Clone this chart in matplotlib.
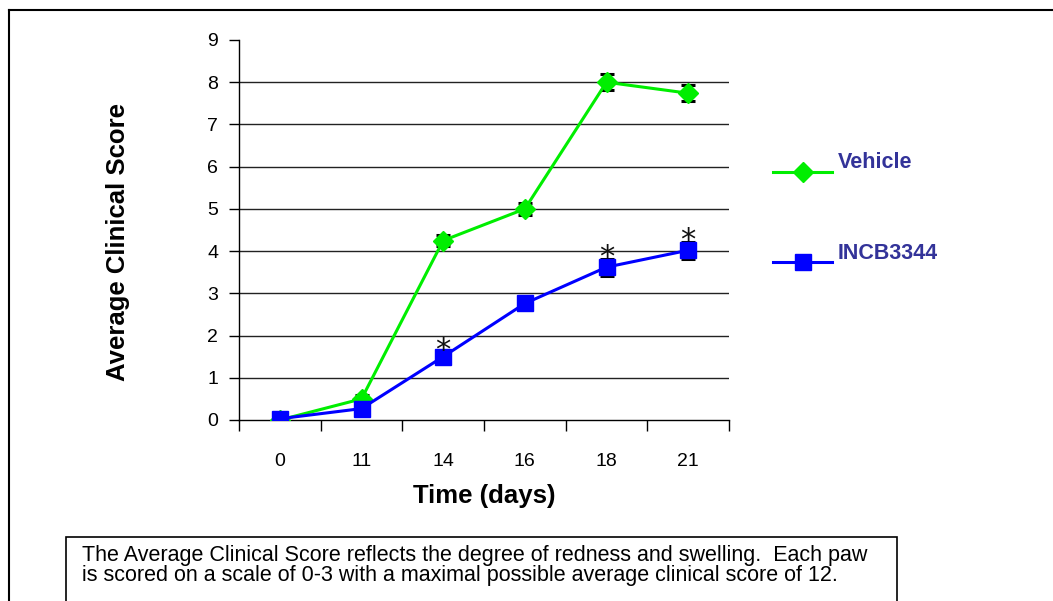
import matplotlib
matplotlib.use("Agg")
import matplotlib.pyplot as plt
from matplotlib.lines import Line2D
from matplotlib.patches import Rectangle

plt.rcParams["font.family"] = ["Liberation Sans", "DejaVu Sans"]

days = ["0", "11", "14", "16", "18", "21"]
vehicle = [0.0, 0.5, 4.25, 5.0, 8.0, 7.74]
vehicle_err = [0.0, 0.1, 0.14, 0.14, 0.19, 0.19]
incb = [0.03, 0.27, 1.5, 2.76, 3.62, 4.02]
incb_err = [0.0, 0.1, 0.12, 0.12, 0.2, 0.2]
signif = [False, False, True, False, True, True]

W, H = 1053, 601
fig = plt.figure(figsize=(W / 100, H / 100), dpi=100)
ax = fig.add_axes([239 / W, 1 - 420 / H, (729 - 239) / W, (420 - 40) / H])

x = list(range(len(days)))
ax.errorbar(x, vehicle, yerr=vehicle_err, color="#00ee00", lw=2.2, marker="D",
            ms=10, mec="#00ee00", ecolor="black", elinewidth=1.6, capsize=5,
            capthick=2.2, zorder=3)
ax.errorbar(x, incb, yerr=incb_err, color="#0000ff", lw=2.2, marker="s",
            ms=11, mec="#0000ff", ecolor="black", elinewidth=1.6, capsize=5,
            capthick=2.2, zorder=4)
# significance marks
for i, s in enumerate(signif):
    if s:
        ax.text(x[i], incb[i] + incb_err[i] + 0.02, "*", ha="center", va="center",
                fontsize=22, color="#111111", zorder=5, family=["DejaVu Sans"])

ax.set_xlim(-0.5, len(days) - 0.5)
ax.set_ylim(0, 9)
ax.set_yticks(range(10))
ax.set_xticks(x)
ax.set_xticklabels(days)
ax.set_xticks([i - 0.5 for i in range(len(days) + 1)], minor=True)
ax.tick_params(axis="x", which="major", length=0, pad=24, labelsize=14)
ax.tick_params(axis="x", which="minor", length=8, width=1, direction="out")
ax.tick_params(axis="y", length=7, width=1, direction="out", pad=8, labelsize=14)
for y in range(1, 9):
    ax.axhline(y, color="#222222", lw=1, zorder=1)
for s in ["top", "right"]:
    ax.spines[s].set_visible(False)
for s in ["left", "bottom"]:
    ax.spines[s].set_color("black")
    ax.spines[s].set_linewidth(1)

ax.set_xlabel("Time (days)", fontsize=18.5, fontweight="bold", labelpad=10)
fig.text(118 / W, 1 - 242 / H, "Average Clinical Score", rotation=90, ha="center",
         va="center", fontsize=18.5, fontweight="bold")

# legend
leg_col = "#333399"
for ly, lbl, c, m, ms in [(172, "Vehicle", "#00ee00", "D", 10), (262, "INCB3344", "#0000ff", "s", 11)]:
    fig.add_artist(Line2D([773 / W, 832 / W], [1 - ly / H] * 2, color=c, lw=2.2))
    fig.add_artist(Line2D([802.5 / W], [1 - ly / H], marker=m, ms=ms, color=c, mec=c))
    fig.text(838 / W, 1 - (ly - 9) / H, lbl, fontsize=15.5, fontweight="bold",
             color=leg_col, va="center", ha="left")

# outer frame
fig.add_artist(Line2D([9 / W, 1.0], [1 - 10 / H] * 2, color="black", lw=1.5))
fig.add_artist(Line2D([9 / W, 9 / W], [0, 1 - 10 / H], color="black", lw=1.5))

# caption box
fig.add_artist(Rectangle((66 / W, -0.05), (897 - 66) / W, 0.05 + (601 - 537) / H,
                         transform=fig.transFigure, fill=False, ec="black", lw=1.2))
fig.text(82 / W, 1 - 555 / H,
         "The Average Clinical Score reflects the degree of redness and swelling.  Each paw",
         fontsize=15.5, va="center", ha="left")
fig.text(82 / W, 1 - 576 / H,
         "is scored on a scale of 0-3 with a maximal possible average clinical score of 12.",
         fontsize=15.5, va="center", ha="left")

fig.savefig("out.png", dpi=100)
